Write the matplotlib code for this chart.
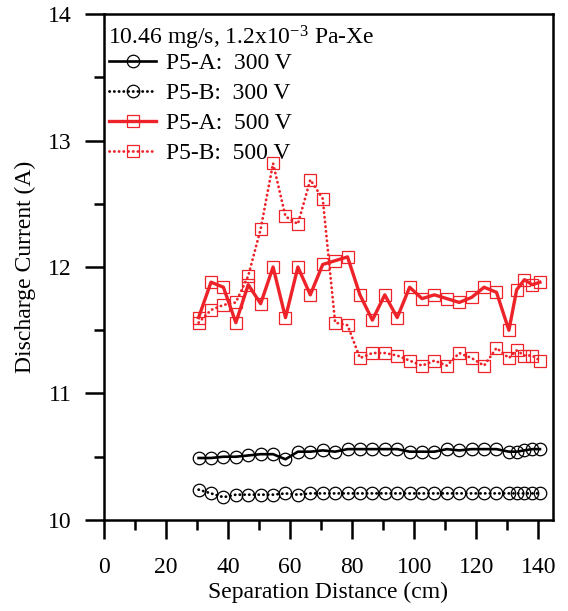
import matplotlib
matplotlib.use("Agg")
import matplotlib.pyplot as plt

# separation distance (cm), shared by all four runs
dist = [30.5, 34.5, 38.5, 42.5, 46.5, 50.5, 54.5, 58.5, 62.5, 66.5,
        70.5, 74.5, 78.5, 82.5, 86.5, 90.5, 94.5, 98.5, 102.5, 106.5,
        110.5, 114.5, 118.5, 122.5, 126.5, 130.5, 133.0, 135.5, 138.0, 140.5]

# discharge current (A)
a_300 = [10.49, 10.49, 10.50, 10.50, 10.51, 10.52, 10.52, 10.48, 10.54, 10.54,
         10.55, 10.54, 10.56, 10.56, 10.56, 10.56, 10.56, 10.54, 10.54, 10.54,
         10.56, 10.55, 10.56, 10.56, 10.56, 10.54, 10.54, 10.55, 10.56, 10.56]
b_300 = [10.24, 10.21, 10.18, 10.20, 10.20, 10.20, 10.20, 10.21, 10.20, 10.21,
         10.21, 10.21, 10.21, 10.21, 10.21, 10.21, 10.21, 10.21, 10.21, 10.21,
         10.21, 10.21, 10.21, 10.21, 10.21, 10.21, 10.21, 10.21, 10.21, 10.21]
a_500 = [11.60, 11.88, 11.84, 11.56, 11.86, 11.71, 12.00, 11.60, 12.00, 11.78,
         12.02, 12.05, 12.08, 11.78, 11.58, 11.78, 11.60, 11.84, 11.75, 11.78,
         11.75, 11.72, 11.76, 11.84, 11.80, 11.50, 11.82, 11.90, 11.86, 11.88]
b_500 = [11.56, 11.66, 11.70, 11.72, 11.93, 12.30, 12.82, 12.40, 12.34, 12.69,
         12.54, 11.56, 11.54, 11.28, 11.32, 11.32, 11.30, 11.26, 11.22, 11.26,
         11.22, 11.32, 11.28, 11.22, 11.36, 11.28, 11.34, 11.30, 11.30, 11.26]

RED = "#ee2229"
plt.rcParams["font.family"] = "Liberation Serif"
plt.rcParams["mathtext.fontset"] = "custom"
plt.rcParams["mathtext.rm"] = "Liberation Serif"
plt.rcParams["mathtext.it"] = "Liberation Serif:italic"

fig = plt.figure(figsize=(5.68, 6.11), dpi=100)
ax = fig.add_axes([0.183, 0.149, 0.79, 0.828])

dotted = (0, (0.1, 1.6))
common = dict(ms=9, mfc="none", mew=0.9)
ax.plot(dist, a_300, "-", color="k", lw=1.9, marker="o", mec="k",
        label="P5-A:  300 V", **common)
ax.plot(dist, b_300, linestyle=dotted, color="k", lw=2.0, marker="o", mec="k",
        dash_capstyle="round", label="P5-B:  300 V", **common)
ax.plot(dist, a_500, "-", color=RED, lw=2.4, marker="s", mec=RED,
        label="P5-A:  500 V", **common)
ax.plot(dist, b_500, linestyle=dotted, color=RED, lw=2.0, marker="s", mec=RED,
        dash_capstyle="round", label="P5-B:  500 V", **common)

ax.set_xlim(0, 144.6)
ax.set_ylim(10, 14)
ax.set_xticks(range(0, 141, 20))
ax.set_xticks(range(10, 141, 20), minor=True)
ax.set_yticks([10, 11, 12, 13, 14])
ax.set_yticks([10.5, 11.5, 12.5, 13.5], minor=True)
ax.tick_params(which="major", direction="out", length=14, width=1.8,
               labelsize=17)
ax.tick_params(axis="x", which="major", pad=13)
ax.tick_params(axis="y", which="major", pad=9.5)
ax.tick_params(which="minor", direction="out", length=7.5, width=1.8)
for s in ax.spines.values():
    s.set_linewidth(1.8)

ax.set_xlabel("Separation Distance (cm)", fontsize=17, labelpad=2.5)
ax.set_ylabel("Discharge Current (A)", fontsize=17, labelpad=8)

ax.text(0.01, 0.953, r"10.46 mg/s, 1.2x10$^{-3}$ Pa-Xe", transform=ax.transAxes,
        fontsize=17, va="center", ha="left")
ax.legend(loc="upper left", bbox_to_anchor=(-0.01, 0.943), frameon=False,
          fontsize=17, handlelength=2.0, handletextpad=0.42, labelspacing=0.365,
          borderaxespad=0.0)

fig.savefig("out.png", dpi=100)
